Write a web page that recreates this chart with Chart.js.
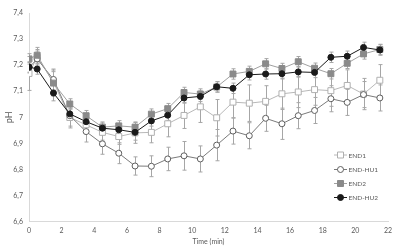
<!DOCTYPE html>
<html>
<head>
<meta charset="utf-8">
<script src="https://cdn.jsdelivr.net/npm/chart.js@4/dist/chart.umd.min.js"></script>
<style>
html,body{margin:0;padding:0;background:#fff;}
#wrap{width:400px;height:248px;position:relative;}
</style>
</head>
<body>
<div id="wrap"><canvas id="c" width="400" height="248"></canvas></div>
<script>
const times = [0,0.5,1.5,2.5,3.5,4.5,5.5,6.5,7.5,8.5,9.5,10.5,11.5,12.5,13.5,14.5,15.5,16.5,17.5,18.5,19.5,20.5,21.5];
const seriesNames = ['END1','END-HU1','END2','END-HU2'];
const end1   = [7.168,7.23,7.135,6.999,6.971,6.942,6.926,6.94,6.942,6.975,7.007,7.04,6.998,7.058,7.054,7.061,7.09,7.097,7.106,7.102,7.122,7.089,7.142];
const endHu1 = [7.19,7.224,7.145,7.006,6.945,6.898,6.862,6.813,6.812,6.84,6.852,6.84,6.893,6.947,6.929,6.996,6.975,7.006,7.026,7.071,7.057,7.087,7.074];
const end2   = [7.224,7.238,7.131,7.051,7.006,6.962,6.967,6.962,7.012,7.033,7.095,7.089,7.116,7.166,7.176,7.205,7.187,7.213,7.188,7.167,7.207,7.243,7.26];
const endHu2 = [7.193,7.185,7.093,7.013,6.983,6.958,6.952,6.942,6.986,7.008,7.074,7.08,7.117,7.111,7.163,7.166,7.167,7.174,7.172,7.23,7.234,7.268,7.258];
const errEnd1   = [0.065,0.03,0.04,0.04,0.03,0.03,0.03,0.04,0.04,0.05,0.05,0.06,0.07,0.06,0.07,0.06,0.06,0.06,0.06,0.06,0.06,0.06,0.06];
const errEndHu1 = [0.02,0.03,0.04,0.04,0.04,0.04,0.04,0.035,0.04,0.045,0.055,0.05,0.06,0.05,0.05,0.05,0.06,0.05,0.05,0.05,0.05,0.05,0.05];
const errEnd2   = [0.02,0.03,0.05,0.02,0.02,0.02,0.02,0.02,0.02,0.02,0.02,0.02,0.02,0.02,0.02,0.02,0.02,0.02,0.02,0.02,0.02,0.02,0.02];
const errEndHu2 = [0.02,0.02,0.03,0.02,0.02,0.02,0.02,0.03,0.02,0.02,0.02,0.02,0.02,0.02,0.02,0.02,0.02,0.02,0.02,0.02,0.02,0.02,0.02];
const xTicks = [0,2,4,6,8,10,12,14,16,18,20,22];
const yTicks = [6.6,6.7,6.8,6.9,7.0,7.1,7.2,7.3,7.4];
const yTickLabels = ['6,6','6,7','6,8','6,9','7','7,1','7,2','7,3','7,4'];

const FONT = 'Lato, "Open Sans", sans-serif';
const toPts = arr => arr.map((v,i)=>({x:times[i], y:v}));

const styles = [
  {border:'#b0b0b0', line:'#b8b8b8', fill:'#ffffff', shape:'rect', r:4.2},
  {border:'#5f5f5f', line:'#7a7a7a', fill:'#ffffff', shape:'circle', r:3},
  {border:'#8a8a8a', line:'#a0a0a0', fill:'#8a8a8a', shape:'rect', r:4.2},
  {border:'#1a1a1a', line:'#1a1a1a', fill:'#1a1a1a', shape:'circle', r:3}
];
const values = [end1,endHu1,end2,endHu2];
const errs = [errEnd1,errEndHu1,errEnd2,errEndHu2];

const datasets = values.map((v,i)=>({
  label: seriesNames[i],
  data: toPts(v),
  errors: errs[i],
  borderColor: styles[i].line,
  borderWidth: 1,
  pointStyle: styles[i].shape,
  pointRadius: styles[i].r,
  pointBorderWidth: 1,
  pointBorderColor: styles[i].border,
  pointBackgroundColor: styles[i].fill,
  tension: 0,
  order: 4 - i
}));

const errorBars = {
  id:'errorBars',
  beforeDatasetsDraw(chart){
    const ctx = chart.ctx, xs = chart.scales.x, ys = chart.scales.y;
    ctx.save();
    ctx.strokeStyle = '#a6a6a6';
    ctx.lineWidth = 1;
    chart.data.datasets.forEach(ds=>{
      ds.data.forEach((p,i)=>{
        const e = ds.errors[i];
        const x = Math.round(xs.getPixelForValue(p.x))+0.5;
        const y1 = ys.getPixelForValue(p.y+e), y2 = ys.getPixelForValue(p.y-e);
        ctx.beginPath();
        ctx.moveTo(x,y1); ctx.lineTo(x,y2);
        ctx.moveTo(x-2,y1); ctx.lineTo(x+2,y1);
        ctx.moveTo(x-2,y2); ctx.lineTo(x+2,y2);
        ctx.stroke();
      });
    });
    ctx.restore();
  }
};

const customLegend = {
  id:'customLegend',
  afterDraw(chart){
    const ctx = chart.ctx;
    ctx.save();
    const x0 = 334, x1 = 347, xm = 340.5, tx = 348.5;
    const ys = [155,169.5,183.5,197.5];
    chart.data.datasets.forEach((ds,i)=>{
      const y = ys[i];
      const s = styles[i];
      ctx.strokeStyle = s.line; ctx.lineWidth = 1;
      ctx.beginPath(); ctx.moveTo(x0,y); ctx.lineTo(x1,y); ctx.stroke();
      ctx.fillStyle = s.fill; ctx.strokeStyle = s.border;
      ctx.beginPath();
      if (s.shape==='rect') { ctx.rect(xm-3,y-3,6,6); }
      else { ctx.arc(xm,y,3,0,Math.PI*2); }
      ctx.fill(); ctx.stroke();
      ctx.fillStyle = '#595959';
      ctx.font = '6.5px ' + FONT;
      ctx.textBaseline = 'middle';
      ctx.textAlign = 'left';
      ctx.fillText(ds.label, tx, y+0.5);
    });
    ctx.restore();
  }
};

new Chart(document.getElementById('c'), {
  type:'line',
  data:{datasets},
  options:{
    responsive:false,
    animation:false,
    events:[],
    layout:{padding:{top:13, right:12, left:0, bottom:0}},
    plugins:{legend:{display:false}, tooltip:{enabled:false}},
    scales:{
      x:{
        type:'linear', min:0, max:22,
        afterBuildTicks: s => { s.ticks = xTicks.map(v=>({value:v})); },
        afterFit: s => { s.height = 26.5; },
        grid:{display:false, drawTicks:false, tickLength:0},
        border:{display:true, color:'#d9d9d9', width:1},
        ticks:{color:'#595959', font:{family:FONT, size:7}, padding:5, maxRotation:0,
               callback: v => String(v)},
        title:{display:true, text:'Time (min)', color:'#595959', font:{family:FONT, size:7}, padding:{top:0,bottom:2}}
      },
      y:{
        type:'linear', min:6.6, max:7.4,
        afterBuildTicks: s => { s.ticks = yTicks.map(v=>({value:v})); },
        afterFit: s => { s.width = 29; },
        grid:{display:false, drawTicks:false, tickLength:0},
        border:{display:true, color:'#d9d9d9', width:1},
        ticks:{color:'#595959', font:{family:FONT, size:7}, padding:6,
               callback: v => { const i = yTicks.findIndex(t=>Math.abs(t-v)<1e-6); return i>=0 ? yTickLabels[i] : ''; }},
        title:{display:true, text:'pH', color:'#595959', font:{family:FONT, size:9}, padding:{top:4,bottom:0}}
      }
    }
  },
  plugins:[errorBars, customLegend]
});
</script>
</body>
</html>
